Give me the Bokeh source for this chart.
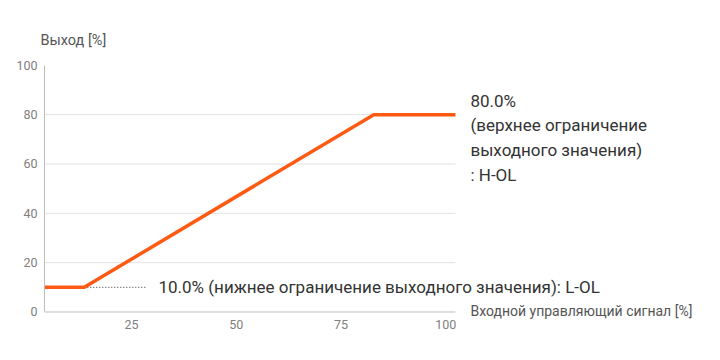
from bokeh.plotting import figure
from bokeh.models import Range1d, FixedTicker, Label
from bokeh.embed import file_html
from bokeh.resources import INLINE

# data
x_vals = [4.2, 13.7, 82.8, 102.3]
y_vals = [10, 10, 80, 80]
low_limit = 10.0
high_limit = 80.0
dotted_x = [13.7, 28.3]
x_ticks = [25, 50, 75, 100]
y_ticks = [0, 20, 40, 60, 80, 100]
grid_ticks = [20, 40, 60, 80]
y_title = "Выход [%]"
x_title = "Входной управляющий сигнал [%]"
low_text = "10.0% (нижнее ограничение выходного значения): L-OL"
high_text = ["80.0%", "(верхнее ограничение", "выходного значения)", ": H-OL"]

# layout
X_MIN, X_MAX = 4.2, 102.3
Y_MIN, Y_MAX = 0, 100
FONT = "Roboto"
ORANGE = "#FF5A14"
AXIS_COLOR = "#bdbdbd"

p = figure(frame_width=656, frame_height=265, output_backend="svg", toolbar_location=None,
           x_range=Range1d(X_MIN, 160.8), y_range=Range1d(-3.45, 103.97),
           min_border_left=44, min_border_top=55, min_border_right=4, min_border_bottom=24,
           title=y_title)
p.outline_line_color = None
p.background_fill_color = "white"
p.border_fill_color = "white"
p.title.align = "left"
p.title.offset = -4
p.title.standoff = 14
p.title.text_font = FONT
p.title.text_font_size = "14.5px"
p.title.text_font_style = "normal"
p.title.text_color = "#555555"

p.xgrid.visible = False
p.ygrid.visible = False
p.segment(x0=X_MIN, x1=X_MAX, y0=grid_ticks, y1=grid_ticks, line_color="#e3e3e3", line_width=1)
# baseline of the x axis at y = 0
p.segment(x0=X_MIN, x1=X_MAX, y0=Y_MIN, y1=Y_MIN, line_color=AXIS_COLOR, line_width=1)

p.yaxis.bounds = (Y_MIN, Y_MAX)
p.xaxis.axis_line_color = None
for ax, ticks in ((p.xaxis[0], x_ticks), (p.yaxis[0], y_ticks)):
    ax.ticker = FixedTicker(ticks=ticks)
    ax.major_tick_line_color = None
    ax.minor_tick_line_color = None
    ax.major_tick_out = 0
    ax.major_tick_in = 0
    ax.minor_tick_out = 0
    ax.minor_tick_in = 0
    ax.major_label_text_font = FONT
    ax.major_label_text_font_size = "12.5px"
    ax.major_label_text_color = "#808080"
p.yaxis.axis_line_color = AXIS_COLOR
p.yaxis.axis_line_width = 1
p.yaxis.major_label_standoff = 7
p.xaxis.major_label_standoff = -1

p.line(dotted_x, [low_limit, low_limit], line_color="#555555", line_width=1.2, line_dash="1 2")
p.line(x_vals, y_vals, line_color=ORANGE, line_width=3.5, line_join="miter")

p.add_layout(Label(x=X_MAX, y=Y_MIN, x_offset=15, y_offset=1, text=x_title, text_font=FONT,
                   text_font_size="14px", text_color="#555555", text_baseline="middle"))
p.add_layout(Label(x=dotted_x[1], y=low_limit, x_offset=13, y_offset=0, text=low_text, text_font=FONT,
                   text_font_size="17px", text_color="#333333", text_baseline="middle"))
for i, t in enumerate(high_text):
    p.add_layout(Label(x=X_MAX, y=high_limit, x_offset=15, y_offset=14 - 24.7 * i, text=t, text_font=FONT,
                       text_font_size="17px", text_color="#333333", text_baseline="middle"))

open("out.html", "w").write(file_html(p, INLINE))
